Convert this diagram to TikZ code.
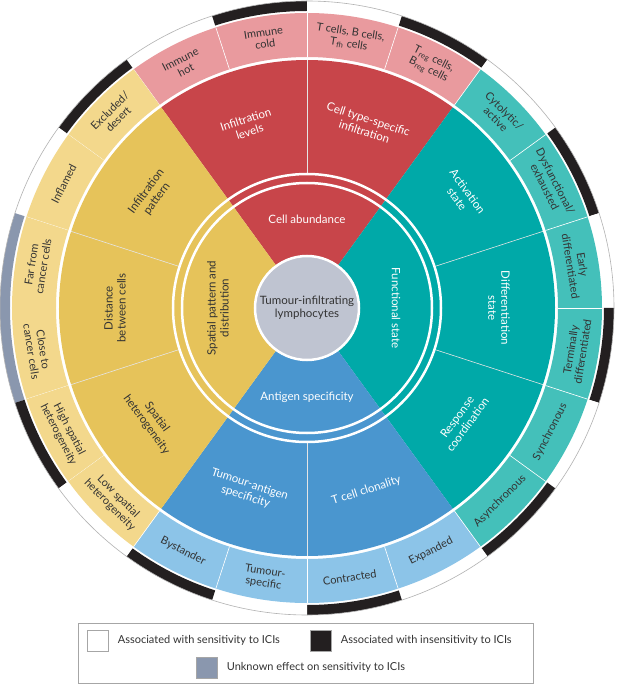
\documentclass[tikz,border=0pt]{standalone}
\usepackage{fontspec}
\setmainfont{Lato}
\usepackage{xcolor}
\definecolor{abundred}{HTML}{C8454A}
\definecolor{abundpink}{HTML}{E99A9E}
\definecolor{functeal}{HTML}{00A9A8}
\definecolor{functlite}{HTML}{44C0BA}
\definecolor{antiblue}{HTML}{4A96CF}
\definecolor{antilite}{HTML}{8CC4E8}
\definecolor{spatyellow}{HTML}{E6C35A}
\definecolor{spatlite}{HTML}{F3D88C}
\definecolor{coregray}{HTML}{BFC4D1}
\definecolor{unkgray}{HTML}{8A97AE}
\definecolor{insblack}{HTML}{231F20}
\definecolor{txtdark}{HTML}{333333}
\usetikzlibrary{positioning}

% annular segment: colour, inner radius, outer radius, start angle, end angle
\newcommand\ringseg[5]{\fill[#1] (#4:#2) arc[start angle=#4, end angle=#5, radius=#2]
  -- (#5:#3) arc[start angle=#5, end angle=#4, radius=#3] -- cycle;}
% wedge from the centre
\newcommand\wedgeseg[4]{\fill[#1] (0,0) -- (#3:#2) arc[start angle=#3, end angle=#4, radius=#2] -- cycle;}

\begin{document}
\begin{tikzpicture}[x=1pt, y=1pt,
    ringlabel/.style={align=center, font=\fontsize{11}{12}\selectfont, text=txtdark},
    seclabel/.style={align=center, font=\fontsize{11.5}{13}\selectfont, text=white},
    legendbox/.style={minimum size=21pt, inner sep=0pt, draw=gray!70, line width=0.6pt},
    legendtext/.style={anchor=west, font=\fontsize{11}{12}\selectfont, text=txtdark}]
  \useasboundingbox (-307,-377) rectangle (309,308);
  \fill[white] (-307,-377) rectangle (309,308);
  % outer bands and label ring
  \foreach \m/\band/\fillc/\txt in {
      117/white/abundpink/{Immune\\hot}, 99/insblack/abundpink/{Immune\\cold},
      81/white/abundpink/{T cells, B cells,\\T$_{\mathrm{fh}}$ cells}, 63/insblack/abundpink/{T$_{\mathrm{reg}}$ cells,\\B$_{\mathrm{reg}}$ cells},
      45/white/functlite/{Cytolytic/\\active}, 27/insblack/functlite/{Dysfunctional/\\exhausted},
      9/white/functlite/{Early\\differentiated}, -9/insblack/functlite/{Terminally\\differentiated},
      -27/white/functlite/{Synchronous}, -45/insblack/functlite/{Asynchronous},
      -63/white/antilite/{Expanded}, -81/insblack/antilite/{Contracted},
      -99/white/antilite/{Tumour-\\specific}, -117/insblack/antilite/{Bystander},
      135/insblack/spatlite/{Excluded/\\desert}, 153/white/spatlite/{Inflamed},
      171/unkgray/spatlite/{Far from\\cancer cells}, 189/unkgray/spatlite/{Close to\\cancer cells},
      207/insblack/spatlite/{High spatial\\heterogeneity}, 225/white/spatlite/{Low spatial\\heterogeneity}} {
    \ringseg{\band}{297}{307}{\m-9}{\m+9}
    \ringseg{\fillc}{251}{295}{\m-9}{\m+9}
    \draw[white, line width=0.6pt] (\m+9:251) -- (\m+9:295);
    \pgfmathsetmacro\rot{(\m<0 || \m>180) ? \m+90 : \m-90}
    \node[ringlabel, rotate=\rot] (ring\m) at (\m:273) {\txt};
  }
  \draw[gray!60, line width=0.6pt] (0,0) circle[radius=307];
  % main sectors
  \wedgeseg{abundred}{248}{54}{126}
  \wedgeseg{functeal}{248}{-54}{54}
  \wedgeseg{antiblue}{248}{-126}{-54}
  \wedgeseg{spatyellow}{248}{126}{234}
  \foreach \a in {90,18,-18,-90,162,198}
    \draw[white!80!gray, line width=0.6pt] (\a:134) -- (\a:248);
  \draw[white, line width=2.5pt] (0,0) circle[radius=125];
  \draw[white, line width=2.5pt] (0,0) circle[radius=134];
  % sector labels
  \foreach \m/\txt in {108/{Infiltration\\levels}, 72/{Cell type-specific\\infiltration},
      36/{Activation\\state}, 0/{Differentiation\\state}, -36/{Response\\coordination},
      -72/{T cell clonality}, -108/{Tumour-antigen\\specificity}} {
    \pgfmathsetmacro\rot{(\m<0 || \m>180) ? \m+90 : \m-90}
    \node[seclabel, rotate=\rot] (sec\m) at (\m:192) {\txt};
  }
  \foreach \m/\txt in {144/{Infiltration\\pattern}, 180/{Distance\\between cells},
      216/{Spatial\\heterogeneity}} {
    \pgfmathsetmacro\rot{(\m<0 || \m>180) ? \m+90 : \m-90}
    \node[seclabel, text=txtdark, rotate=\rot] (sec\m) at (\m:192) {\txt};
  }
  % inner labels
  \node[seclabel] (abund) at (90:89) {Cell abundance};
  \node[seclabel, rotate=-90] (funct) at (0:89) {Functional state};
  \node[seclabel] (anti) at (-90:89) {Antigen specificity};
  \node[seclabel, text=txtdark, rotate=90] (spat) at (180:89) {Spatial pattern and\\distribution};
  % centre
  \fill[coregray] (0,0) circle[radius=52];
  \draw[white, line width=2.5pt] (0,0) circle[radius=52];
  \node[seclabel, text=txtdark] (til) at (0,0) {Tumour-infiltrating\\lymphocytes};
  % legend
  \draw[gray!70, line width=0.6pt] (-229,-315) rectangle (226,-375);
  \node[legendbox, fill=white] (keysens) at (-209.5,-332.5) {};
  \node[legendtext, right=6pt of keysens] {Associated with sensitivity to ICIs};
  \node[legendbox, fill=insblack] (keyins) at (13.5,-332.5) {};
  \node[legendtext, right=6pt of keyins] {Associated with insensitivity to ICIs};
  \node[legendbox, fill=unkgray] (keyunk) at (-100.5,-359.5) {};
  \node[legendtext, right=6pt of keyunk] {Unknown effect on sensitivity to ICIs};
\end{tikzpicture}
\end{document}
